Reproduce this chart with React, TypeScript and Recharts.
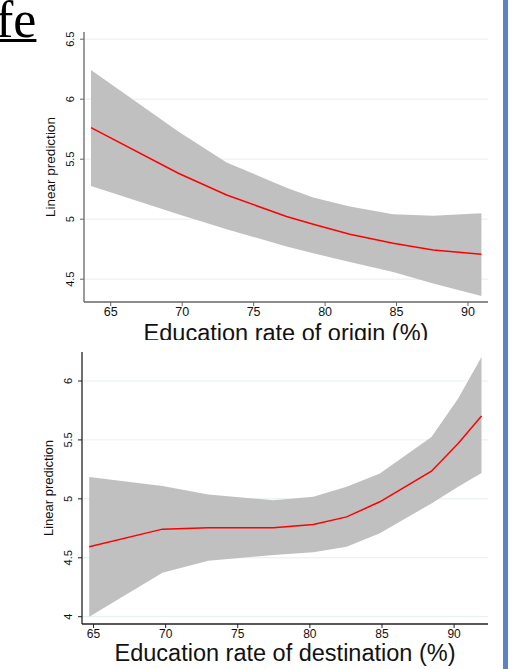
import React from 'react'
import { ComposedChart, Area, Line, XAxis, YAxis, CartesianGrid, Label } from 'recharts'

// Education rate of origin (%) -> linear prediction with 95% band
const originX = [63.62, 69.73, 73.11, 77.3, 79.17, 81.73, 84.76, 87.56, 90.94]
const originFit = [5.763, 5.383, 5.202, 5.022, 4.958, 4.875, 4.8, 4.744, 4.708]
const originLow = [5.277, 5.042, 4.917, 4.772, 4.716, 4.644, 4.561, 4.464, 4.361]
const originHigh = [6.244, 5.73, 5.472, 5.263, 5.18, 5.105, 5.042, 5.028, 5.05]

// Education rate of destination (%)
const destX = [64.7, 69.78, 72.96, 77.47, 80.24, 82.55, 84.85, 88.43, 90.28, 91.9]
const destFit = [4.593, 4.743, 4.754, 4.754, 4.783, 4.847, 4.975, 5.235, 5.469, 5.703]
const destLow = [4.0, 4.373, 4.475, 4.523, 4.546, 4.593, 4.707, 4.961, 5.102, 5.22]
const destHigh = [5.186, 5.11, 5.037, 4.989, 5.017, 5.102, 5.215, 5.525, 5.851, 6.203]

const xTicks = [65, 70, 75, 80, 85, 90]
const originYTicks = [4.5, 5, 5.5, 6, 6.5]
const destYTicks = [4, 4.5, 5, 5.5, 6]

const FONT = '"Liberation Sans", Arial, sans-serif'

const toRows = (xs: number[], fit: number[], lo: number[], hi: number[]) =>
  xs.map((x, i) => ({ x, fit: fit[i], band: [lo[i], hi[i]] }))

const YTick = (props: any) => {
  const { x, y, payload } = props
  const bx = x - 4
  return (
    <text x={bx} y={y} transform={`rotate(-90 ${bx} ${y})`} textAnchor="middle" fontSize={11} fill="#111" fontFamily={FONT}>
      {payload.value}
    </text>
  )
}

const yTitle = (dx: number, size: number) => (props: any) => {
  const vb = props.viewBox
  const x = vb.x + vb.width - dx
  const y = vb.y + vb.height / 2
  return (
    <text x={x} y={y} transform={`rotate(-90 ${x} ${y})`} textAnchor="middle" dominantBaseline="central" fontSize={size} fill="#111" fontFamily={FONT}>
      Linear prediction
    </text>
  )
}

const xTitle = (text: string, dy: number) => (props: any) => {
  const vb = props.viewBox
  return (
    <text x={vb.x + vb.width / 2} y={vb.y + dy} textAnchor="middle" fontSize={23.5} fill="#111" fontFamily={FONT}>
      {text}
    </text>
  )
}

function Panel(props: {
  rows: any[]; width: number; height: number; margin: any; xDomain: [number, number]; yDomain: [number, number]
  yTicks: number[]; title: string; titleDy: number; yTitleDx: number; yTitleSize: number; xTickSize: number; axisColor: string
}) {
  const { rows, width, height, margin, xDomain, yDomain, yTicks, title, titleDy, yTitleDx, yTitleSize, xTickSize, axisColor } = props
  return (
    <ComposedChart width={width} height={height} data={rows} margin={margin}>
      <CartesianGrid horizontal vertical={false} stroke="#e6efef" horizontalValues={yTicks} />
      <XAxis
        type="number" dataKey="x" domain={xDomain} ticks={xTicks} allowDataOverflow height={36}
        tickSize={4} tickMargin={1} tick={{ fontSize: xTickSize, fill: '#111', fontFamily: FONT }}
        axisLine={{ stroke: axisColor, strokeWidth: 1.3 }} tickLine={{ stroke: axisColor }}
      >
        <Label content={xTitle(title, titleDy)} />
      </XAxis>
      <YAxis
        type="number" domain={yDomain} ticks={yTicks} allowDataOverflow width={40}
        tickSize={4} tickMargin={2} tick={<YTick />}
        axisLine={{ stroke: axisColor, strokeWidth: 1.3 }} tickLine={{ stroke: axisColor }}
      >
        <Label content={yTitle(yTitleDx, yTitleSize)} />
      </YAxis>
      <Area type="linear" dataKey="band" fill="#c0c0c0" fillOpacity={1} stroke="none" isAnimationActive={false} />
      <Line type="linear" dataKey="fit" stroke="#ff0000" strokeWidth={1.5} dot={false} isAnimationActive={false} />
    </ComposedChart>
  )
}

export default function App() {
  const originRows = toRows(originX, originFit, originLow, originHigh)
  const destRows = toRows(destX, destFit, destLow, destHigh)
  return (
    <div style={{ position: 'absolute', left: 0, top: 0, width: 532, height: 669, background: '#fff', overflow: 'hidden', fontFamily: FONT }}>
      <div style={{ position: 'absolute', left: -4, top: -9, fontFamily: '"Liberation Serif", serif', fontSize: 52, lineHeight: '57px', textDecoration: 'underline', textDecorationThickness: 2.5, color: '#000' }}>
        fe
      </div>
      <div style={{ position: 'absolute', left: 0, top: 0, width: 532, height: 340, overflow: 'hidden' }}>
        <Panel
          rows={originRows} width={532} height={360} margin={{ top: 32, right: 44, bottom: 22, left: 44 }}
          xDomain={[63.13, 91.4]} yDomain={[4.31, 6.56]} yTicks={originYTicks}
          title="Education rate of origin (%)" titleDy={39} yTitleDx={34} yTitleSize={13.5} xTickSize={12.5} axisColor="#666"
        />
      </div>
      <div style={{ position: 'absolute', left: 0, top: 340, width: 532, height: 329, overflow: 'hidden' }}>
        <Panel
          rows={destRows} width={532} height={329} margin={{ top: 12, right: 44, bottom: 9, left: 42 }}
          xDomain={[64.2, 92.35]} yDomain={[3.938, 6.246]} yTicks={destYTicks}
          title="Education rate of destination (%)" titleDy={37} yTitleDx={34} yTitleSize={13} xTickSize={12} axisColor="#222"
        />
      </div>
      <div style={{ position: 'absolute', left: 503, top: 0, width: 5, height: 669, background: '#5b85c0' }} />
    </div>
  )
}
